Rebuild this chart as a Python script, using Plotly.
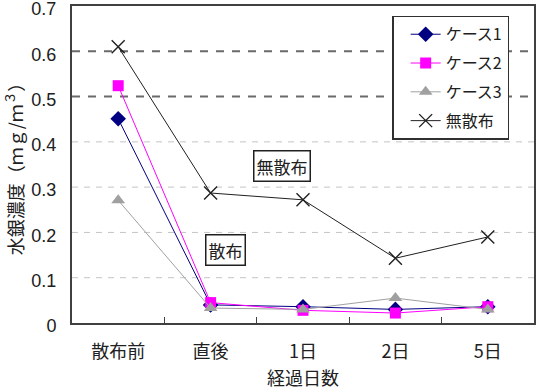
import plotly.graph_objects as go

categories = ["散布前", "直後", "1日", "2日", "5日"]
case1 = [0.451, 0.040, 0.036, 0.030, 0.036]
case2 = [0.524, 0.045, 0.028, 0.022, 0.036]
case3 = [0.271, 0.033, 0.030, 0.055, 0.030]
no_spray = [0.610, 0.287, 0.272, 0.143, 0.190]
series_names = ["ケース1", "ケース2", "ケース3", "無散布"]
y_ticks = [0, 0.1, 0.2, 0.3, 0.4, 0.5, 0.6, 0.7]
light_grid = [0.1, 0.2, 0.3, 0.4]
dark_grid = [0.5, 0.6]

JP = "Noto Sans CJK JP, Liberation Sans, sans-serif"

fig = go.Figure()
styles = [
    (case1, dict(color="#000080", width=1), dict(symbol="diamond", size=12, color="#000080")),
    (case2, dict(color="#FF00FF", width=1), dict(symbol="square", size=11, color="#FF00FF")),
    (case3, dict(color="#A0A0A0", width=1), dict(symbol="triangle-up", size=12, color="#A0A0A0")),
    (no_spray, dict(color="#202020", width=1), dict(symbol="x-thin-open", size=13, color="#202020",
                                                     line=dict(width=1.4, color="#202020"))),
]
for name, (vals, ln, mk) in zip(series_names, styles):
    fig.add_trace(go.Scatter(x=categories, y=vals, name=name, mode="lines+markers",
                             line=ln, marker=mk, legendgroup=name))

for g in light_grid:
    fig.add_shape(type="line", xref="paper", x0=0, x1=1, yref="y", y0=g, y1=g,
                  line=dict(color="#C4C4C4", width=1, dash="6px,6px"), layer="below")
for g in dark_grid:
    fig.add_shape(type="line", xref="paper", x0=0, x1=1, yref="y", y0=g, y1=g,
                  line=dict(color="#6A6A6A", width=2, dash="8px,8px"), layer="below")

fig.add_annotation(x=1.77, y=0.346, xref="x", yref="y", text="無散布", showarrow=False,
                   font=dict(family=JP, size=17, color="#202020"),
                   bordercolor="#202020", borderwidth=1.5, borderpad=2, bgcolor="white")
fig.add_annotation(x=1.156, y=0.162, xref="x", yref="y", text="散布", showarrow=False,
                   font=dict(family=JP, size=17, color="#202020"),
                   bordercolor="#202020", borderwidth=1.5, borderpad=2, bgcolor="white")

fig.update_layout(
    width=539, height=390,
    margin=dict(l=72, r=5, t=6, b=67, autoexpand=False),
    paper_bgcolor="white", plot_bgcolor="white",
    font=dict(family=JP, size=16, color="#202020"),
    showlegend=True,
    legend=dict(x=0.693, y=0.969, xanchor="left", yanchor="top",
                bordercolor="#303030", borderwidth=1.5, bgcolor="white",
                font=dict(family=JP, size=16, color="#202020"),
                tracegroupgap=5, indentation=12),
    xaxis=dict(type="category", range=[-0.5, 4.5], showline=True, linecolor="#404040",
               linewidth=2, mirror=True, ticks="inside", tickson="boundaries", ticklen=6,
               tickcolor="#404040", showgrid=False, ticklabelstandoff=11, automargin=False,
               tickfont=dict(family=JP, size=18, color="#202020"),
               title=dict(text="経過日数", font=dict(family=JP, size=18, color="#202020"), standoff=26)),
    yaxis=dict(range=[0, 0.7], tickvals=y_ticks, showline=True, linecolor="#404040",
               linewidth=2, mirror=True, ticks="", showgrid=False, zeroline=False,
               ticklabelstandoff=10, ticklabelshift=3, ticklabeloverflow="allow", automargin=False,
               tickfont=dict(family="Liberation Sans, Arial, sans-serif", size=18, color="#202020"),
               title=dict(text="水銀濃度（ｍｇ/ｍ<sup>３</sup>）", font=dict(family=JP, size=18, color="#202020"),
                          standoff=4)),
)

fig.write_html("out.html")
